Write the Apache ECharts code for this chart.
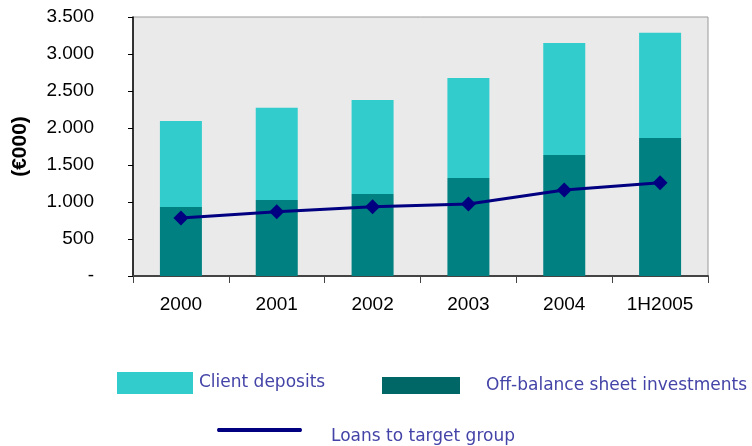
<!DOCTYPE html>
<html>
<head>
<meta charset="utf-8">
<script src="https://cdn.jsdelivr.net/npm/echarts@6/dist/echarts.min.js"></script>
<style>
  html, body { margin: 0; padding: 0; background: #ffffff; }
  #chart { width: 752px; height: 446px; }
</style>
</head>
<body>
<div id="chart"></div>
<script>
// Periods on the category axis
const periods = ['2000', '2001', '2002', '2003', '2004', '1H2005'];
// Off-balance sheet investments (€000), bottom of each stack
const offBalance = [932, 1027, 1108, 1324, 1635, 1865];
// Client deposits (€000), stacked on top
const clientDeposits = [1163, 1247, 1270, 1352, 1514, 1423];
// Loans to target group (€000)
const loans = [784, 869, 937, 973, 1162, 1261];

const AXIS_FONT = 'Liberation Sans, Arial, sans-serif';
const LEGEND_FONT = 'DejaVu Sans, Verdana, sans-serif';
const LEGEND_TEXT = '#4444A8';

function fmtThousands(v) {
  if (v === 0) return '-';
  return String(v).replace(/\B(?=(\d{3})+(?!\d))/g, '.');
}

const chart = echarts.init(document.getElementById('chart'), null, { renderer: 'canvas' });

chart.setOption({
  animation: false,
  backgroundColor: '#ffffff',
  grid: {
    left: 133, right: 44, top: 17, bottom: 170,
    show: true,
    backgroundColor: '#EAEAEA',
    borderColor: '#9a9a9a',
    borderWidth: 1
  },
  legend: [
    {
      left: 117, top: 372, padding: 0,
      itemWidth: 76, itemHeight: 22,
      textStyle: { fontFamily: LEGEND_FONT, fontSize: 17, color: LEGEND_TEXT, padding: [0, 0, 0, 1] },
      data: [{ name: 'Client deposits', icon: 'rect' }]
    },
    {
      left: 382, top: 377, padding: 0,
      itemWidth: 78, itemHeight: 17,
      textStyle: { fontFamily: LEGEND_FONT, fontSize: 17, color: LEGEND_TEXT, padding: [0, 0, 0, 21] },
      data: [{ name: 'Off-balance sheet investments', icon: 'rect', itemStyle: { color: '#006666' } }]
    },
    {
      left: 217, top: 428, padding: 0,
      itemWidth: 85, itemHeight: 20,
      textStyle: {
        fontFamily: LEGEND_FONT, fontSize: 17, color: LEGEND_TEXT,
        padding: [0, 0, 0, 24],
        rich: { t: { fontFamily: LEGEND_FONT, fontSize: 17, color: LEGEND_TEXT, padding: [13, 0, 0, 0] } }
      },
      formatter: '{t|{name}}',
      data: [{
        name: 'Loans to target group',
        icon: 'path://M2,8 L83,8 Q85,10 83,12 L2,12 Q0,10 2,8 Z',
        itemStyle: { color: '#000080' }
      }]
    }
  ],
  xAxis: {
    type: 'category',
    data: periods,
    boundaryGap: true,
    axisLine: { lineStyle: { color: '#444444', width: 2 } },
    axisTick: { show: true, length: 7, lineStyle: { color: '#444444' } },
    axisLabel: { fontFamily: AXIS_FONT, fontSize: 19, color: '#000000', margin: 19 }
  },
  yAxis: {
    type: 'value',
    min: 0, max: 3500, interval: 500,
    name: '(€000)',
    nameLocation: 'middle',
    nameGap: 102,
    nameTextStyle: { fontFamily: AXIS_FONT, fontSize: 21, fontWeight: 'bold', color: '#000000' },
    axisLine: { show: true, lineStyle: { color: '#000000', width: 1.5 } },
    axisTick: { show: true, length: 5, lineStyle: { color: '#000000' } },
    splitLine: { show: false },
    axisLabel: {
      fontFamily: AXIS_FONT, fontSize: 19, color: '#000000', margin: 39,
      formatter: fmtThousands
    }
  },
  series: [
    {
      name: 'Off-balance sheet investments',
      type: 'bar',
      stack: 'funds',
      barWidth: 42,
      itemStyle: { color: '#008080' },
      data: offBalance
    },
    {
      name: 'Client deposits',
      type: 'bar',
      stack: 'funds',
      barWidth: 42,
      itemStyle: { color: '#33CCCC' },
      data: clientDeposits
    },
    {
      name: 'Loans to target group',
      type: 'line',
      data: loans,
      symbol: 'diamond',
      symbolSize: 15,
      lineStyle: { color: '#000080', width: 3 },
      itemStyle: { color: '#000080' },
      z: 5
    }
  ]
});
</script>
</body>
</html>
